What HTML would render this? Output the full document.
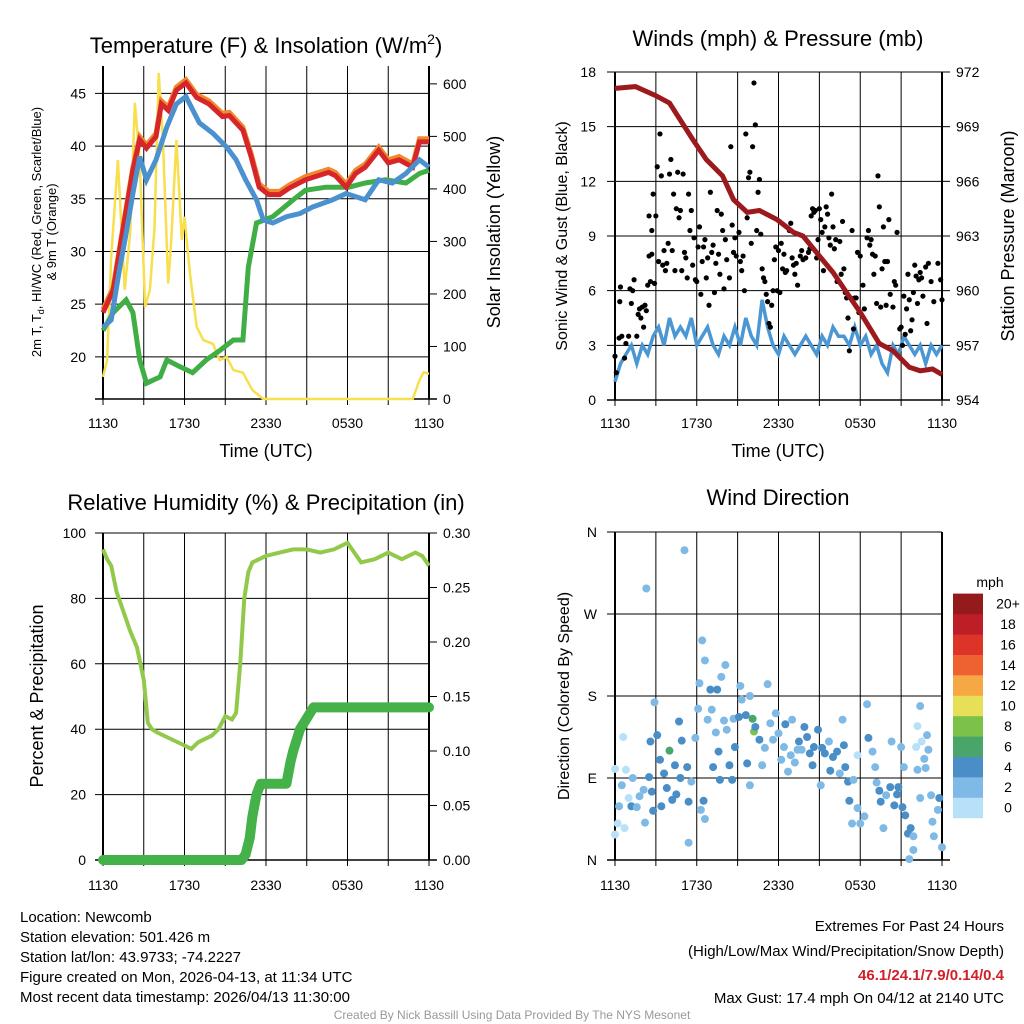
<!DOCTYPE html>
<html><head><meta charset="utf-8"><style>
body{margin:0;background:#fff}
svg{display:block;font-family:"Liberation Sans",Arial,sans-serif}
</style></head><body>
<svg id="s" width="1024" height="1024" viewBox="0 0 1024 1024">
<rect width="1024" height="1024" fill="#fff"/>
<g id="g"></g>
<text x="266" y="53" font-size="22" text-anchor="middle">Temperature (F) &amp; Insolation (W/m<tspan dy="-9" font-size="14">2</tspan><tspan dy="9">)</tspan></text>
<text x="778" y="46" font-size="22" text-anchor="middle">Winds (mph) &amp; Pressure (mb)</text>
<text x="266" y="510" font-size="22" text-anchor="middle">Relative Humidity (%) &amp; Precipitation (in)</text>
<text x="778" y="505" font-size="22" text-anchor="middle">Wind Direction</text>
<text x="266" y="457" font-size="18" text-anchor="middle">Time (UTC)</text>
<text x="778" y="457" font-size="18" text-anchor="middle">Time (UTC)</text>
<g transform="translate(41,232) rotate(-90)"><text x="0" y="0" font-size="13" text-anchor="middle">2m T, T<tspan font-size="9" dy="3">d</tspan><tspan dy="-3">, HI/WC (Red, Green, Scarlet/Blue)</tspan></text><text x="0" y="15" font-size="13" text-anchor="middle">&amp; 9m T (Orange)</text></g>
<text transform="translate(500,232) rotate(-90)" font-size="18" text-anchor="middle">Solar Insolation (Yellow)</text>
<text transform="translate(567,236) rotate(-90)" font-size="16" text-anchor="middle">Sonic Wind &amp; Gust (Blue, Black)</text>
<text transform="translate(1014,236) rotate(-90)" font-size="18" text-anchor="middle">Station Pressure (Maroon)</text>
<text transform="translate(43,696) rotate(-90)" font-size="18" text-anchor="middle">Percent &amp; Precipitation</text>
<text transform="translate(569,696) rotate(-90)" font-size="16" text-anchor="middle">Direction (Colored By Speed)</text>
<g font-size="15">
<text x="20" y="922">Location: Newcomb</text>
<text x="20" y="942">Station elevation: 501.426 m</text>
<text x="20" y="962">Station lat/lon: 43.9733; -74.2227</text>
<text x="20" y="982">Figure created on Mon, 2026-04-13, at 11:34 UTC</text>
<text x="20" y="1002">Most recent data timestamp: 2026/04/13 11:30:00</text>
</g>
<g font-size="15" text-anchor="end">
<text x="1004" y="931">Extremes For Past 24 Hours</text>
<text x="1004" y="956">(High/Low/Max Wind/Precipitation/Snow Depth)</text>
<text x="1004" y="980" fill="#d2202a" font-weight="bold">46.1/24.1/7.9/0.14/0.4</text>
<text x="1004" y="1003">Max Gust: 17.4 mph On 04/12 at 2140 UTC</text>
</g>
<text x="512" y="1019" font-size="12" fill="#999" text-anchor="middle">Created By Nick Bassill Using Data Provided By The NYS Mesonet</text>
</svg>
<script>
const xLabels=["1130","1730","2330","0530","1130"];
const tempT=[0,0.75,1.5,2.2,2.7,3.2,3.9,4.3,4.8,5.4,6.1,6.9,7.8,8.8,9.3,10.3,10.9,11.5,12.2,13,13.7,14.9,16.6,17.1,17.9,18.6,19.3,20.3,21,21.8,22.8,23.3,24];
const tempVals=[24.2,26.3,32.3,37.7,40.6,39.8,40.9,44,43.4,45.3,46,44.6,44,42.8,42.9,41.5,39,36.1,35.4,35.4,36,36.8,37.5,37.2,36.1,37.4,38,39.6,38.4,38.7,38,40.4,40.4];
const hiT=[0,0.6,1.2,1.7,2.2,2.7,3.2,3.9,4.7,5.4,6.1,7.1,8.1,9.1,9.8,10.5,11.3,11.8,12.5,13.5,14.5,15.4,16.9,17.9,19.3,20.3,21.3,22.3,23.3,24];
const hiVals=[22.8,23.5,28.2,31.7,35.5,39,36.8,38.7,41.8,44,44.7,42.2,41.2,39.9,38.7,36.8,34.9,33,32.7,33.3,33.6,34.2,34.9,35.5,34.9,36.8,36.5,37.4,38.7,38];
const dewT=[0,0.75,1.7,2.2,2.7,3.2,4.2,4.7,5.6,6.6,7.6,8.6,9.6,10.3,10.7,11.3,12.5,14,14.9,16.4,18.1,19.3,20.8,22.3,23.3,24];
const dewVals=[22.5,24.2,25.4,24.2,19.7,17.5,18.1,19.7,19.1,18.5,19.7,20.6,21.6,21.6,28.5,32.7,33.3,34.9,35.8,36.1,36.1,36.5,36.8,36.5,37.4,37.7];
const solarT=[0,0.3,0.6,1.1,1.6,2,2.35,2.7,3.1,3.45,3.8,4.1,4.4,4.8,5,5.4,5.8,6,6.4,6.9,7.4,8.1,8.6,9.1,9.6,10.3,11,11.8,22.8,23.3,23.6,24];
const solarVals=[42,74,270,455,208,316,564,455,175,208,328,621,499,220,290,493,303,347,240,137,112,105,74,80,55,50,17,0,0,36,51,48];
const presT=[0,1.5,3,4,5.7,6.7,7.9,8.7,9.7,10.6,11.9,13.1,13.8,15,16,17,18,19.4,20.4,21.6,22.4,23.3,24];
const presVals=[971.1,971.2,970.7,970.3,968.3,967.2,966.3,965,964.3,964.4,963.9,963.2,963,961.9,961,959.9,958.8,957.1,956.7,955.8,955.6,955.7,955.4];
const windVals=[1,2,2.5,3,2,3,2.5,3.5,4,3,4.5,3.5,4,3.5,4.5,3,3.5,4,3,2.5,3.5,3,4,3,4.5,3.5,3,5.5,4,3,2.5,3.5,3,2.5,3,3.5,3,2.5,3.5,3,4,3.5,3.5,3,4,3,3.5,2.5,3,2,1.5,3,2.5,3.5,3,2.5,3,2,3,2.5,3];
const gusts=[[0,2.4],[0.1,1.5],[0.3,3.4],[0.35,5.4],[0.4,6.2],[0.5,3.5],[0.7,2.3],[0.8,3.1],[1,3.5],[1.1,6.1],[1.2,5.3],[1.3,6],[1.4,6.6],[1.6,3.5],[1.7,4.7],[1.8,5],[1.9,4.5],[2,5.1],[2.1,4],[2.2,5.2],[2.3,4.9],[2.4,6.3],[2.5,7.9],[2.5,10.1],[2.6,6.5],[2.7,8],[2.7,9.3],[2.8,11.3],[2.9,6.4],[3,10.1],[3.1,12.8],[3.2,7.6],[3.3,14.6],[3.4,12.3],[3.5,7.4],[3.6,8.2],[3.7,7.1],[3.8,7.5],[3.9,8.6],[4,12.4],[4.1,13.2],[4.2,8.2],[4.3,11.3],[4.4,7.1],[4.5,10.5],[4.6,12.5],[4.7,10],[4.8,10.4],[4.9,7.1],[5,12.4],[5.1,8.1],[5.2,7.8],[5.3,6.7],[5.4,11.3],[5.5,9.3],[5.6,10.4],[5.7,7.4],[5.8,8.9],[5.9,6.6],[6,6.5],[6.1,8.4],[6.2,9.5],[6.3,5.8],[6.4,7.6],[6.5,8.4],[6.6,8.8],[6.7,6.7],[6.8,7.8],[6.9,5.2],[7,11.4],[7.1,8.1],[7.2,8.5],[7.3,5.9],[7.4,7.5],[7.5,10.4],[7.6,8],[7.7,6.9],[7.8,10.2],[7.9,9.3],[8,6.1],[8.1,8.8],[8.2,7.7],[8.4,6.7],[8.5,13.9],[8.6,9.6],[8.7,8.1],[8.8,8.9],[8.9,7.9],[9.1,9.2],[9.2,7.6],[9.3,7.1],[9.4,7.9],[9.5,6],[9.6,14.6],[9.7,10],[9.8,12.2],[9.9,12.5],[10,8.6],[10.1,13.9],[10.2,17.4],[10.3,15.1],[10.4,9.3],[10.5,11.4],[10.6,12.1],[10.7,9.1],[10.8,7.2],[10.9,6.7],[11,6.5],[11.1,5.8],[11.2,5.4],[11.3,4.2],[11.4,4],[11.5,5.2],[11.6,6],[11.7,7.7],[11.8,8.4],[11.9,6],[12,8.2],[12.1,5.9],[12.2,8.6],[12.3,7.2],[12.4,8],[12.5,7],[12.6,7.1],[12.8,9.3],[12.9,9.7],[13,7.8],[13.1,7.4],[13.2,6.9],[13.3,7.5],[13.4,6.3],[13.6,7.9],[13.7,8.2],[13.8,7.7],[14,7.8],[14.2,8.1],[14.3,8.3],[14.4,10.1],[14.5,10.5],[14.6,10.3],[14.7,10.4],[14.8,7.8],[14.9,8.8],[15,10.5],[15.1,9.9],[15.2,9.2],[15.3,7.1],[15.4,9.5],[15.5,10.6],[15.6,10.2],[15.7,8.9],[15.8,8.5],[15.9,11.3],[16,9.5],[16.1,8.3],[16.2,8.8],[16.3,6.5],[16.5,8.7],[16.6,6.9],[16.7,9.8],[16.8,7.2],[16.9,5.9],[17,5.6],[17.1,4.5],[17.2,2.7],[17.3,5.6],[17.4,9.3],[17.5,3.9],[17.6,5.6],[17.7,5.6],[17.8,8.1],[17.9,4.8],[18,7.9],[18.2,6.3],[18.3,5],[18.5,8.9],[18.6,9.3],[18.7,8.5],[18.8,8.8],[18.9,8],[19,6.9],[19.1,7.9],[19.2,5.3],[19.3,12.3],[19.4,10.6],[19.5,5.1],[19.6,7.2],[19.7,9.5],[19.8,7.6],[19.9,5.2],[20,7.6],[20.1,9.9],[20.2,5.8],[20.4,5.1],[20.5,6.5],[20.6,6.3],[20.7,9.2],[20.9,3.9],[21,4],[21.1,3],[21.2,5.7],[21.3,3.6],[21.4,5],[21.5,6.9],[21.6,5.5],[21.7,3.8],[21.8,4.4],[21.9,5.9],[22,7.4],[22.1,6.8],[22.2,5.3],[22.3,6.6],[22.4,7],[22.5,6.7],[22.6,5.7],[22.8,7.3],[22.9,4.2],[23,7.5],[23.2,6.5],[23.4,5.4],[23.7,7.5],[23.9,6.6],[24,5.5]];
const rhT=[0,0.3,0.6,1,1.5,2,2.5,3,3.3,3.6,4,5,6,6.5,7,8,8.5,9,9.5,9.8,10.1,10.4,10.7,11,12,13,14,15,16,17,18,18.5,19,20,21,22,23,23.5,24];
const rhVals=[95,92,90,82,76,70,65,55,42,40,39,37,35,34,36,38,40,44,43,45,60,80,88,91,93,94,95,95,94,95,97,94,91,92,94,92,94,93,90];
const precT=[0,10.2,10.5,10.8,11,11.3,11.6,12,12.5,13,13.5,13.8,14,14.5,15,15.5,16,24];
const precVals=[0,0,0.005,0.02,0.04,0.06,0.07,0.07,0.07,0.07,0.07,0.09,0.1,0.12,0.13,0.14,0.14,0.14];
const dirPts=[[0,28,1],[0,100,1],[0.2,40,1],[0.3,59,3],[0.5,82,3],[0.6,135,1],[0.7,35,1],[0.8,99,1],[1,68,1],[1.2,59,5],[1.3,90,3],[1.6,58,3],[1.8,70,3],[2.1,77,3],[2.2,41,3],[2.3,298,3],[2.5,91,5],[2.7,75,5],[2.8,54,5],[2.9,173,3],[3.1,137,5],[2.6,130,5],[3.3,110,5],[3.4,59,5],[3.6,95,5],[3.8,79,5],[4,120,7],[4.2,66,5],[4.4,104,5],[4.5,72,5],[4.7,152,5],[4.8,90,5],[4.9,131,5],[5.1,340,3],[5.3,102,5],[5.4,64,5],[5.4,19,3],[5.6,86,3],[5.9,134,3],[6.1,166,3],[6.2,194,3],[6.3,55,3],[6.4,241,3],[6.5,65,5],[6.6,45,3],[6.6,219,3],[6.8,154,3],[7,187,5],[7.1,165,3],[7.2,102,5],[7.4,140,3],[7.5,187,5],[7.6,119,5],[7.7,88,5],[7.8,201,3],[8,153,3],[8.1,214,3],[8.2,143,3],[8.4,104,5],[8.6,88,5],[8.7,155,3],[8.8,124,5],[9.1,157,5],[9.2,191,3],[9.3,176,3],[9.6,159,5],[9.7,106,5],[9.9,82,3],[9.9,180,3],[10.1,155,7],[10.2,141,9],[10.3,146,5],[10.6,132,5],[10.8,104,3],[11,123,3],[11.2,193,3],[11.4,150,3],[11.6,132,3],[11.8,161,3],[12,139,3],[12.2,110,3],[12.4,124,3],[12.5,149,5],[12.7,97,3],[12.9,115,3],[13,154,3],[13.2,107,3],[13.4,121,3],[13.5,130,5],[13.7,121,3],[13.9,146,5],[14.1,135,5],[14.3,117,5],[14.5,104,5],[14.6,124,5],[14.9,143,5],[15.1,82,3],[15.2,123,5],[15.4,117,5],[15.7,130,3],[15.8,98,5],[16,113,5],[16.3,119,5],[16.5,95,3],[16.7,154,3],[16.8,126,5],[16.9,102,5],[17.1,86,5],[17.2,65,5],[17.4,40,3],[17.5,88,3],[17.8,57,3],[17.8,115,1],[18,40,3],[18.3,48,3],[18.5,171,3],[18.6,134,5],[18.9,119,3],[19.1,102,3],[19.2,85,3],[19.4,76,5],[19.5,64,5],[19.7,35,3],[19.9,71,3],[20.2,80,5],[20.3,130,3],[20.5,60,5],[20.7,72,5],[20.8,80,5],[21,124,3],[21.1,58,5],[21.2,102,3],[21.3,49,5],[21.5,29,5],[21.6,1,3],[21.7,35,5],[21.9,11,3],[21.9,26,3],[22.1,124,1],[22.2,147,1],[22.2,99,3],[22.4,169,3],[22.4,68,3],[22.5,130,1],[22.7,111,3],[22.8,101,3],[22.9,137,3],[23,121,3],[23.2,71,3],[23.3,42,3],[23.4,26,3],[23.7,55,3],[23.8,68,5],[24,14,3]];
const speedLabels=["0","2","4","6","8","10","12","14","16","18","20+"];
const speedColors=["#b7e1f8","#7fb9e5","#4a8ec7","#4aa56b","#7cc24a","#e7df58","#f5a844","#ee6130","#dd3429","#be1e25","#951a1c"];

const NS="http://www.w3.org/2000/svg";
const G=document.getElementById('g');
function el(tag,at,parent){const e=document.createElementNS(NS,tag);for(const k in at)e.setAttribute(k,at[k]);(parent||G).appendChild(e);return e;}
function lin(d0,d1,r0,r1){return v=>r0+(v-d0)/(d1-d0)*(r1-r0);}
function pathD(xs,ys,fx,fy){return xs.map((t,i)=>(i?'L':'M')+fx(t).toFixed(1)+','+fy(ys[i]).toFixed(1)).join('');}

function frame(name,x0,x1,y0,y1,labY){
  const g=el('g',{});
  
  
  const fx=lin(0,24,x0,x1);
  for(let h=0;h<=24;h+=3){
    const ln=el('line',{x1:fx(h),x2:fx(h),y1:y0,y2:y1+6,stroke:'#000','stroke-width':1},g);
    
    
  }
  xLabels.forEach((s,i)=>{
    const t=el('text',{x:fx(i*6),y:labY,'font-size':14,'text-anchor':'middle'},g);
    
    
    t.textContent=s;
  });
  return {g,fx};
}
function hgrid(g,ys,x0,x1,labels,lx,anchor){
  ys.forEach((y,i)=>{
    const ln=el('line',{x1:x0-8,x2:x1,y1:y,y2:y,stroke:'#000','stroke-width':1},g);
    
    
    const t=el('text',{x:lx,y:y+5,'font-size':14,'text-anchor':anchor},g);
    
    
    t.textContent=labels[i];
  });
}
function rticks(g,ys,x1,labels){
  ys.forEach((y,i)=>{
    el('line',{x1:x1,x2:x1+8,y1:y,y2:y,stroke:'#000','stroke-width':1},g);
    const t=el('text',{x:x1+14,y:y+5,'font-size':14,'text-anchor':'start'},g);
    
    
    t.textContent=labels[i];
  });
}
function borders(g,x0,x1,y0,y1){
  el('line',{x1:x0,x2:x0,y1:y0,y2:y1,stroke:'#000','stroke-width':2},g);
  el('line',{x1:x1,x2:x1,y1:y0,y2:y1,stroke:'#000','stroke-width':2},g);
  el('line',{x1:x0-8,x2:x1+8,y1:y1,y2:y1,stroke:'#000','stroke-width':1.5},g);
}

// Panel 1
(function(){
  const x0=103,x1=429,y0=66,y1=399;
  const {g,fx}=frame('temperature',x0,x1,y0,y1,428);
  const fy=lin(16,47.6,y1,y0), fs=lin(0,634,y1,y0);
  const tv=[20,25,30,35,40,45];
  hgrid(g,tv.map(fy),x0,x1,tv.map(String),86,'end');
  const sv=[0,100,200,300,400,500,600];
  rticks(g,sv.map(fs),x1,sv.map(String));
  borders(g,x0,x1,y0,y1);
  let p=el('path',{d:pathD(solarT,solarVals,fx,fs),fill:'none',stroke:'#f7df4e','stroke-width':2.5});
  
  
  p=el('path',{d:pathD(dewT,dewVals,fx,fy),fill:'none',stroke:'#3fae44','stroke-width':5});
  
  
  p=el('path',{d:pathD(tempT,tempVals.map(v=>v+0.3),fx,fy),fill:'none',stroke:'#f08a2e','stroke-width':5});
  
  
  p=el('path',{d:pathD(tempT,tempVals,fx,fy),fill:'none',stroke:'#d7262a','stroke-width':5});
  
  
  p=el('path',{d:pathD(hiT,hiVals,fx,fy),fill:'none',stroke:'#4b90cf','stroke-width':5});
  
  
})();

// Panel 2
(function(){
  const x0=615,x1=942,y0=72,y1=400;
  const {g,fx}=frame('winds',x0,x1,y0,y1,428);
  const fy=lin(0,18,y1,y0), fp=lin(954,972,y1,y0);
  const wv=[0,3,6,9,12,15,18];
  hgrid(g,wv.map(fy),x0,x1,wv.map(String),596,'end');
  const pv=[954,957,960,963,966,969,972];
  rticks(g,pv.map(fp),x1,pv.map(String));
  borders(g,x0,x1,y0,y1);
  const wt=windVals.map((v,i)=>i*0.4);
  let p=el('path',{d:pathD(wt,windVals,fx,fy),fill:'none',stroke:'#4b97d3','stroke-width':3.5});
  
  
  gusts.forEach(d=>{
    const c=el('circle',{cx:fx(d[0]),cy:fy(d[1]),r:2.6,fill:'#000'});
    
    
  });
  p=el('path',{d:pathD(presT,presVals,fx,fp),fill:'none',stroke:'#9c1a1d','stroke-width':5});
  
  
})();

// Panel 3
(function(){
  const x0=103,x1=429,y0=533,y1=860;
  const {g,fx}=frame('humidity',x0,x1,y0,y1,890);
  const fy=lin(0,100,y1,y0), fp=lin(0,0.3,y1,y0);
  const rv=[0,20,40,60,80,100];
  hgrid(g,rv.map(fy),x0,x1,rv.map(String),86,'end');
  const pv=[0,0.05,0.1,0.15,0.2,0.25,0.3];
  rticks(g,pv.map(fp),x1,pv.map(v=>v.toFixed(2)));
  borders(g,x0,x1,y0,y1);
  let p=el('path',{d:pathD(rhT,rhVals,fx,fy),fill:'none',stroke:'#93c94a','stroke-width':4});
  
  
  p=el('path',{d:pathD(precT,precVals,fx,fp),fill:'none',stroke:'#44b249','stroke-width':10,'stroke-linejoin':'round','stroke-linecap':'round'});
  
  
})();

// Panel 4
(function(){
  const x0=615,x1=942,y0=532,y1=860;
  const {g,fx}=frame('direction',x0,x1,y0,y1,890);
  const fy=lin(0,360,y1,y0);
  const dv=[0,90,180,270,360], dl=["N","E","S","W","N"];
  hgrid(g,dv.map(fy),x0,x1,dl,597,'end');
  borders(g,x0,x1,y0,y1);
  dirPts.forEach(d=>{
    const c=el('circle',{cx:fx(d[0]),cy:fy(d[1]),r:4,fill:speedColors[Math.min(10,Math.floor(d[2]/2))]});
    
    
  });
  const cb=el('g',{});
  
  
  const t=el('text',{x:990,y:587,'font-size':14,'text-anchor':'middle'},cb);
  t.textContent='mph';
  speedColors.forEach((c,i)=>{
    const y=818-(i+1)*20.4;
    const r=el('rect',{x:953,y:y,width:30,height:20.6,fill:c},cb);
    
    
    const l=el('text',{x:1008,y:y+15,'font-size':14,'text-anchor':'middle'},cb);
    
    
    l.textContent=speedLabels[i];
  });
})();
</script>
</body></html>
